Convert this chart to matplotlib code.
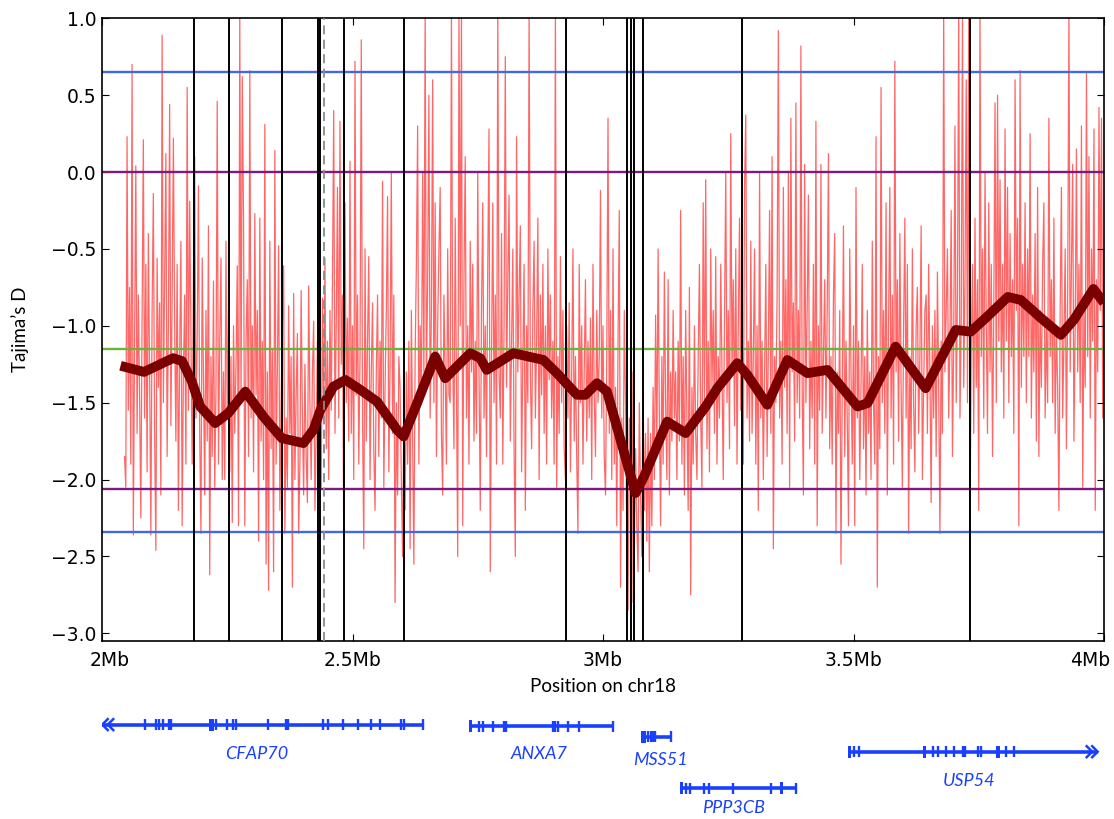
import numpy as np
import matplotlib
matplotlib.use("Agg")
import matplotlib.pyplot as plt
from matplotlib.patches import Rectangle
from matplotlib.transforms import ScaledTranslation

# ---------------------------------------------------------------
# Tajima's D in sliding windows along chr18 (window centres in Mb)
# ---------------------------------------------------------------
window_start = 2.045
window_step = 0.0025
tajima_d = [
    -1.85, -2.05, 0.23, -1.55, -0.75, -1.9, 0.70, -2.36, -1.1, 0.04, -1.7, -0.8, -1.45, -2.25, -0.95, 0.21, -1.6, -0.6, -1.95, -0.40,
    -1.3, -2.36, -0.9, -0.14, -1.7, -2.46, -0.56, -1.4, -0.85, -2.1, 0.89, -1.5, -0.7, 0.12, -1.85, -1.0, 0.44, -1.65, -0.8, 0.22,
    -1.0, -1.75, -0.6, -2.2, -1.2, -0.45, -2.3, -1.3, -0.8, -1.9, 0.55, -1.55, -0.19, -1.05, -1.9, -0.7, 0.10, -1.6, -1.1, -0.09,
    -1.7, -2.35, -0.56, -1.3, -2.1, -0.9, -1.75, -0.35, -2.62, -1.2, -1.85, -0.71, -2.05, -1.4, 0.46, -1.9, -1.1, -0.56, -2.0, -1.3,
    -2.0, -0.45, -1.6, -0.9, -1.95, -1.2, -2.28, -1.0, -1.7, -1.25, -0.61, -2.3, 1.05, -1.5, 0.62, -0.3, -2.3, -1.1, -0.7, -1.85,
    0.66, -1.6, -1.0, -1.95, -0.27, -1.45, -0.9, -2.4, -0.30, -1.75, -1.1, -2.0, 0.31, -2.55, -1.3, -2.72, -0.45, -1.8, -1.15, -2.6,
    0.14, -1.9, -1.3, -0.48, -2.2, -1.5, -1.0, -0.61, -2.35, -1.6, -2.05, -0.87, -1.7, -1.2, -2.70, -0.79, -2.0, -1.45, -1.05, -2.35,
    -1.9, -0.77, -1.6, -2.1, -1.25, -1.85, -2.15, -0.74, -1.5, -2.0, -1.3, -0.97, -2.2, -1.7, -1.1, -1.95, -1.4, -2.05, -0.82, -1.6,
    -0.56, -1.8, -1.1, -2.0, -0.9, -1.55, -0.7, 0.40, -1.7, -1.0, -0.1, -1.6, 0.33, -1.25, -0.8, -2.4, -0.2, -1.5, -0.95, -1.75,
    0.07, -1.7, -1.0, -2.0, 0.72, -1.45, -0.8, -1.9, -1.2, 0.86, -1.6, -2.45, -0.5, -1.75, -1.1, -0.55, -2.0, -1.3, -0.85, -1.8,
    -2.2, -1.3, -0.8, -1.85, -1.1, -1.6, -0.06, -2.05, -1.4, -0.9, -0.16, -1.95, -1.25, 0.0, -1.7, -0.8, -2.8, -1.5, -2.1, -1.2,
    -1.4, -2.0, -2.5, -1.6, -2.2, -1.3, -1.9, -1.1, -2.45, -0.9, -1.7, -2.55, -1.2, -0.6, 0.3, -1.9, -1.0, -1.5, 0.0, -1.3,
    1.05, -1.4, -0.7, 0.5, -1.6, -0.9, 0.6, -1.5, -0.2, -1.85, -1.0, -0.5, -0.1, -1.7, -2.1, -0.8, -1.3, -1.9, -0.5, -1.45,
    -1.5, 1.05, -1.2, -1.8, -0.3, -1.4, -2.5, 1.05, -1.0, 1.05, -2.3, -0.7, 0.1, -1.6, -1.0, -1.9, -0.45, -1.3, -0.6, -1.75,
    -1.1, -1.7, 0.0, -1.3, -2.2, -0.9, -0.2, -1.6, -1.0, -1.85, -0.6, 0.28, -2.6, -1.2, -0.2, -1.5, -0.8, -1.9, 1.05, -1.3,
    -1.6, -0.4, -1.9, -1.0, 0.75, -1.4, -0.7, -0.15, -1.75, -1.1, -0.5, -1.8, -2.5, 0.23, -1.3, -0.8, -0.35, -1.95, -1.2, -0.6,
    -2.2, -1.0, -1.5, 1.05, -1.3, -1.8, -0.9, -0.45, -1.6, -1.1, -0.3, -2.0, -0.8, -1.45, -0.6, -1.7, -1.0, -1.9, -0.5, -1.35,
    -0.8, -1.6, -1.1, -1.9, 1.05, -2.05, -1.2, -1.7, -0.55, -1.5, -0.9, -1.8, -2.0, -1.0, -1.6, -0.85, -1.95, -1.3, -0.5, -1.75,
    -1.2, -1.85, -2.35, -0.6, -1.5, -1.0, -1.9, -1.3, -0.7, -1.75, -1.1, -1.6, -0.95, -2.0, -0.6, -1.45, -1.85, -0.9, -1.5, -1.2,
    -0.12, -1.6, -1.0, -1.85, -2.1, -1.2, 0.35, -1.7, -0.9, -2.0, -0.5, -1.9, -1.4, -2.3, -1.1, -0.25, -2.7, -1.6, -2.2, -0.9,
    -1.5, -2.4, -2.85, -1.6, -2.2, -2.8, -1.3, -2.5, -1.8, -2.3, -2.6, -1.5, -2.1, -2.5, -1.4, -2.2, -1.7, -2.4, -1.6, -2.6,
    -1.7, -2.3, -1.4, -2.0, -0.93, -1.8, -0.5, -1.6, -2.3, -1.2, -1.9, -0.65, -1.5, -2.0, -0.7, -2.1, -1.3, -1.75, -0.9, -1.6,
    -1.3, -2.0, -1.1, -1.75, -0.25, -1.9, -1.2, -2.1, -0.9, -1.6, -2.2, -0.75, -2.75, -1.4, -1.9, -1.0, -1.7, -2.0, -1.2, -0.6,
    -1.6, -2.05, -0.2, -1.5, -0.05, -1.8, -1.1, -1.95, -0.5, -1.4, -0.9, -1.7, -0.55, -1.9, -1.2, -1.6, -0.6, -1.3, -2.0, -0.95,
    0.0, -1.5, -0.9, -1.8, 0.25, -1.3, -0.7, -1.65, -0.5, -1.9, -1.0, -0.3, -1.55, -0.8, -1.9, -0.1, 0.37, -1.6, -1.1, -1.75,
    -0.45, -1.7, -1.2, -0.5, -1.9, -1.0, -2.2, 0.0, -1.6, -1.1, -2.0, -1.3, -0.6, -1.85, -1.15, -0.25, -1.7, 0.1, -2.45, -1.2,
    -1.5, -0.8, 0.92, -1.6, -1.1, -1.9, -0.1, -1.4, -0.7, -1.7, 0.0, -2.05, 0.35, -1.3, -0.85, -1.75, 0.45, -1.5, -0.9, -1.6,
    0.82, -1.4, -2.1, 0.05, -1.5, -0.9, -0.15, -1.8, -1.1, -1.6, -0.6, -1.9, 0.33, -2.3, -1.0, -1.55, 0.05, -1.7, -1.2, -0.7,
    -1.6, -0.9, 0.12, -1.8, -1.2, -1.9, -0.8, -0.4, -2.35, -1.3, -1.7, -0.9, -2.55, -1.4, -0.35, -1.85, -1.1, -1.6, -2.3, -0.5,
    -1.3, -1.9, -1.0, -2.3, -0.1, -1.6, -1.1, -2.0, -1.4, -0.6, -1.8, -1.2, -2.1, -0.9, -1.7, -1.3, -2.0, -0.45, -1.5, -1.9,
    0.23, -2.7, -1.2, -1.8, 0.55, -1.5, -0.9, -1.7, -0.2, -2.1, -1.0, -0.1, -1.6, -0.8, -1.9, 0.72, -1.3, -0.7, -1.75, -0.4,
    -1.4, -2.05, -1.0, -0.3, -1.6, -0.6, -2.35, -1.2, -1.8, -0.5, -1.5, -1.95, -1.0, -0.75, -1.7, -1.2, -0.35, -2.0, -1.4, -0.9,
    -0.8, -1.7, -0.6, -1.3, -2.15, -1.0, -1.6, -0.9, -1.85, -0.65, -1.4, -2.35, -1.1, -1.7, 1.05, -1.3, -0.9, -0.5, -1.6, -1.1,
    -0.25, -1.85, -1.1, 0.3, -1.5, -0.8, 1.05, -1.6, -1.0, 1.05, -1.4, -0.7, 0.6, -1.5, 1.05, -2.3, -1.2, -0.6, -1.7, -0.3,
    -1.4, -0.7, -2.2, 1.05, -1.2, -0.5, -1.6, 0.0, -1.0, -1.7, -0.2, -1.3, -0.6, -1.85, -0.9, 0.45, -1.5, 0.5, -1.1, -0.05,
    -1.3, -0.6, -1.6, 0.28, -1.1, -0.1, -1.5, -0.4, -1.2, -0.7, -1.7, 0.6, -0.9, -0.3, -2.3, 0.66, -1.4, -0.6, -1.2, -0.2,
    -1.5, -0.5, -1.2, 0.25, -1.6, -0.8, -1.3, -0.4, -1.75, -0.1, -1.85, -0.9, -1.4, -0.6, -0.2, -1.6, -1.0, -1.5, 0.35, -1.2,
    -0.7, -1.5, -0.3, -1.7, -1.0, -1.4, -2.2, -0.9, -0.1, -1.6, -1.1, -0.5, -1.8, -0.8, 1.05, -1.3, -0.6, 0.05, -1.75, -1.0,
    0.15, -1.3, -0.6, -1.5, 0.3, -2.05, -0.9, -1.4, 0.65, -1.2, 0.1, -1.6, -0.5, -1.1, 0.28, -2.2, -0.7, -1.3, 0.42, -0.9,
    0.35, -1.6, -0.5,
]

# smoothed Tajima's D (Mb, value)
smooth_pos = [2.037, 2.084, 2.142, 2.160, 2.179, 2.196, 2.226, 2.252, 2.286, 2.322,
              2.359, 2.402, 2.422, 2.436, 2.462, 2.486, 2.516, 2.549, 2.589, 2.602,
              2.629, 2.665, 2.685, 2.735, 2.755, 2.768, 2.821, 2.881, 2.908, 2.948,
              2.965, 2.988, 3.008, 3.035, 3.065, 3.082, 3.128, 3.165, 3.205, 3.228,
              3.268, 3.288, 3.328, 3.368, 3.408, 3.448, 3.508, 3.528, 3.584, 3.644,
              3.704, 3.734, 3.764, 3.808, 3.834, 3.874, 3.914, 3.940, 3.979, 4.000]
smooth_d = [-1.26, -1.30, -1.21, -1.23, -1.36, -1.525, -1.633, -1.568, -1.428, -1.59,
            -1.731, -1.763, -1.677, -1.547, -1.395, -1.352, -1.417, -1.493, -1.677, -1.72,
            -1.503, -1.20, -1.341, -1.178, -1.211, -1.287, -1.178, -1.222, -1.308, -1.449,
            -1.449, -1.373, -1.428, -1.742, -2.088, -1.98, -1.623, -1.698, -1.525, -1.406,
            -1.243, -1.319, -1.514, -1.222, -1.308, -1.287, -1.525, -1.503, -1.135, -1.406,
            -1.027, -1.038, -0.949, -0.812, -0.832, -0.949, -1.059, -0.96, -0.76, -0.851]

# genome-wide reference levels
level_values = [0.65, 0.0, -1.15, -2.06, -2.34]
level_colors = ["#4169e1", "#7d1a7d", "#6cb23e", "#7d1a7d", "#4169e1"]

# positions of marked sites (Mb)
marker_pos = [2.184, 2.253, 2.359, 2.432, 2.436, 2.484, 2.603, 2.927,
              3.047, 3.056, 3.062, 3.080, 3.277, 3.733]
dashed_pos = 2.4436

# gene models (Mb)
gene_names = ["CFAP70", "ANXA7", "MSS51", "PPP3CB", "USP54"]
gene_spans = [(2.000, 2.6412), (2.7325, 3.0192), (3.0763, 3.1363),
              (3.1528, 3.3860), (3.4891, 3.9874)]
gene_exons = [
    [2.0867, 2.1073, 2.1145, 2.1217, 2.1331, 2.1381, 2.2272, 2.2486, 2.2607,
     2.2665, 2.3321, 2.3678, 2.3714, 2.4414, 2.4519, 2.4819, 2.5113, 2.5377,
     2.5554, 2.5968, 2.6018],
    [2.7517, 2.7602, 2.7802, 2.8016, 2.8066, 2.8993, 2.9051, 2.9109, 2.9301, 2.9515],
    [3.0895, 3.0949, 3.0995, 3.1029],
    [3.1662, 3.1734, 3.2014, 3.2114, 3.2601, 3.3361],
    [3.5011, 3.5111, 3.6578, 3.6678, 3.6843, 3.7009, 3.7177, 3.7223, 3.7477,
     3.7542, 3.8042, 3.8208],
]
gene_blocks = [
    [(2.2144, 2.2236)],
    [(2.7325, 2.7395)],
    [(3.0763, 3.0849)],
    [(3.1528, 3.1588), (3.3526, 3.3600)],
    [(3.4891, 3.4959), (3.6378, 3.6444), (3.7842, 3.7922)],
]
gene_label_pos = [2.309, 2.873, 3.1149, 3.2614, 3.731]

# ---------------------------------------------------------------
W, H = 1114, 819
fig = plt.figure(figsize=(W / 100, H / 100), dpi=100)
fig.patch.set_facecolor("white")

ax_l, ax_r, ax_t, ax_b = 102, 1104, 18.3, 641
ax = fig.add_axes([ax_l / W, 1 - ax_b / H, (ax_r - ax_l) / W, (ax_b - ax_t) / H])

win_pos = window_start + window_step * np.arange(len(tajima_d))
ax.plot(win_pos, tajima_d, color="#ff0000", lw=0.9, alpha=0.6, zorder=1)

for val, col in zip(level_values, level_colors):
    ax.axhline(val, color=col, lw=1.7, zorder=2)

for xp in marker_pos:
    ax.axvline(xp, color="black", lw=1.4, zorder=3)

ax.plot(smooth_pos, smooth_d, color="#7a0000", lw=7.0, zorder=4,
        solid_joinstyle="round", solid_capstyle="butt")

ax.axvline(dashed_pos, color="#8a8a8a", lw=1.3, dashes=(5, 3), zorder=5)

ax.set_xlim(2.0, 4.0)
ax.set_ylim(-3.05, 1.0)
ax.set_xticks([2.0, 2.5, 3.0, 3.5, 4.0])
ax.set_xticklabels(["2Mb", "2.5Mb", "3Mb", "3.5Mb", "4Mb"])
ax.set_yticks(np.arange(-3.0, 1.01, 0.5))
ax.tick_params(direction="in", top=True, right=True, length=5, width=0.8,
               labelsize=13.5, colors="black")
ax.tick_params(axis="x", pad=7)
ax.tick_params(axis="y", pad=4)
for sp in ax.spines.values():
    sp.set_linewidth(1.2)

# keep the outermost position labels inside the frame
for lbl, dx in zip(ax.get_xticklabels(), [8, 0, 0, 0, -14]):
    lbl.set_transform(lbl.get_transform() +
                      ScaledTranslation(dx / 100, 0, fig.dpi_scale_trans))

ax.set_xlabel("Position on chr18", fontfamily="Lato", fontsize=13.5, va="center")
ax.xaxis.set_label_coords(0.5, (ax_b - 686) / (ax_b - ax_t))
ax.set_ylabel("Tajima\u2019s D", fontfamily="Lato", fontsize=13.5, va="center")
ax.yaxis.set_label_coords((20 - ax_l) / (ax_r - ax_l), 0.5)

# ---------------------------------------------------------------
# gene track (y in pixel rows of the figure)
gx = fig.add_axes([ax_l / W, 0, (ax_r - ax_l) / W, 129 / H])
gx.set_xlim(2.0, 4.0)
gx.set_ylim(819, 690)
gx.axis("off")

gene_color = "#1a40ff"
gene_rows = [724.6, 726.0, 736.7, 788.3, 751.7]
label_rows = [754.0, 754.0, 760.0, 808.0, 780.7]
half = 5.5

for i, name in enumerate(gene_names):
    y = gene_rows[i]
    s, e = gene_spans[i]
    gx.plot([s, e], [y, y], color=gene_color, lw=2.6, solid_capstyle="butt")
    gx.vlines(gene_exons[i], y - half, y + half, color=gene_color, lw=1.7)
    for b0, b1 in gene_blocks[i]:
        gx.add_patch(Rectangle((b0, y - half - 0.5), b1 - b0, 2 * half + 1,
                               color=gene_color, lw=0))
    gx.text(gene_label_pos[i], label_rows[i], name, color=gene_color,
            fontfamily="Lato", fontstyle="italic", fontsize=13,
            ha="center", va="center")

# end bars
for i in [0, 1, 2, 3]:
    e = gene_spans[i][1]
    y = gene_rows[i]
    gx.vlines([e], y - half, y + half, color=gene_color, lw=1.7)

# strand chevrons at the open ends of CFAP70 and USP54
cw = 0.011
y0 = gene_rows[0]
for tip in [2.0005, 2.0115]:
    gx.plot([tip + cw, tip, tip + cw], [y0 - half, y0, y0 + half],
            color=gene_color, lw=1.8, solid_joinstyle="miter")
y4 = gene_rows[4]
for tip in [3.9874, 3.9764]:
    gx.plot([tip - cw, tip, tip - cw], [y4 - half, y4, y4 + half],
            color=gene_color, lw=1.8, solid_joinstyle="miter")

fig.savefig("out.png", dpi=100, facecolor="white")
